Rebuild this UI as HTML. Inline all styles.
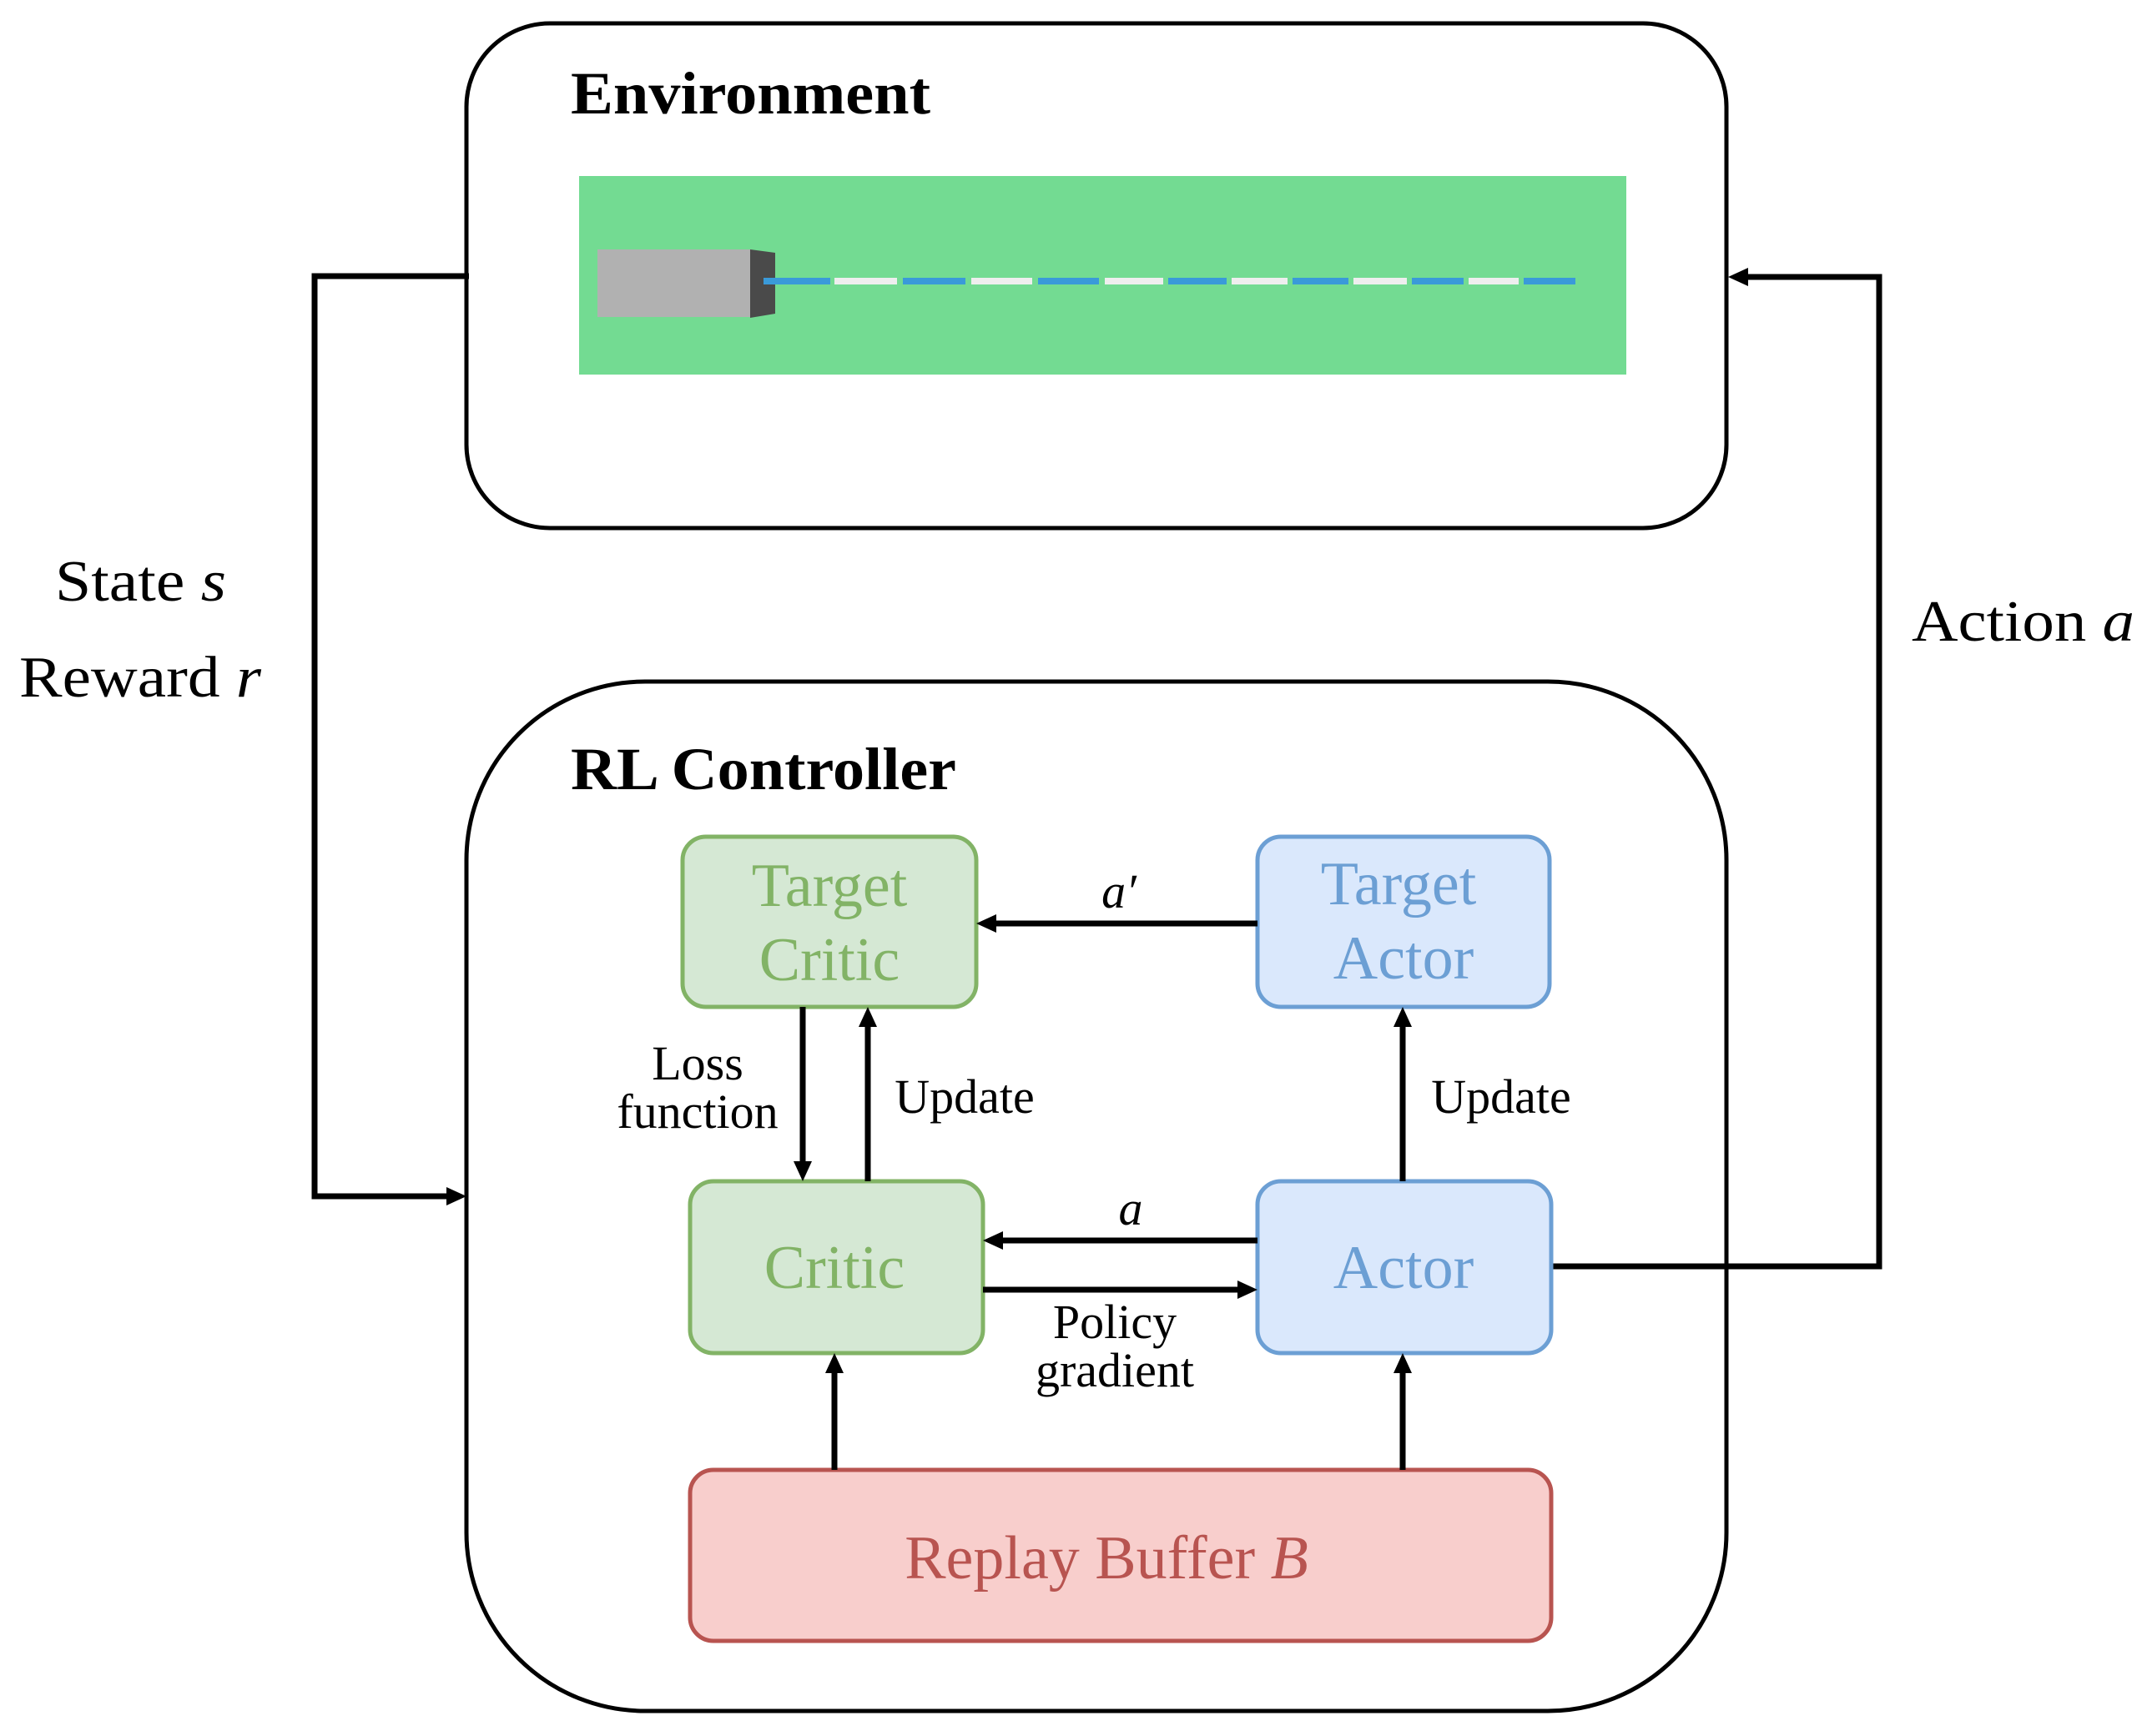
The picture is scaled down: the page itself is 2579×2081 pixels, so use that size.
<!DOCTYPE html>
<html><head><meta charset="utf-8"><style>html,body{margin:0;padding:0;background:#fff}svg{display:block}</style></head>
<body>
<svg width="2579" height="2081" viewBox="0 0 2579 2081" xmlns="http://www.w3.org/2000/svg" font-family="Liberation Serif, serif">
<!-- Environment -->
<rect x="559" y="28" width="1510" height="605" rx="100" fill="#fff" stroke="#000" stroke-width="5"/>
<text x="684" y="136" font-size="72" font-weight="bold" textLength="431" lengthAdjust="spacingAndGlyphs">Environment</text>
<rect x="694" y="211" width="1255" height="238" fill="#73db92"/>
<rect x="716" y="299" width="185" height="81" fill="#b1b1b1"/>
<polygon points="899,299 929,303 929,376 899,381" fill="#4a4a4a"/>
<g stroke-width="8">
<line x1="915" y1="337" x2="995" y2="337" stroke="#3a9ad9"/>
<line x1="1000" y1="337" x2="1075" y2="337" stroke="#eeeeee"/>
<line x1="1082" y1="337" x2="1157" y2="337" stroke="#3a9ad9"/>
<line x1="1164" y1="337" x2="1237" y2="337" stroke="#eeeeee"/>
<line x1="1244" y1="337" x2="1317" y2="337" stroke="#3a9ad9"/>
<line x1="1324" y1="337" x2="1394" y2="337" stroke="#eeeeee"/>
<line x1="1400" y1="337" x2="1470" y2="337" stroke="#3a9ad9"/>
<line x1="1476" y1="337" x2="1543" y2="337" stroke="#eeeeee"/>
<line x1="1549" y1="337" x2="1616" y2="337" stroke="#3a9ad9"/>
<line x1="1622" y1="337" x2="1686" y2="337" stroke="#eeeeee"/>
<line x1="1692" y1="337" x2="1754" y2="337" stroke="#3a9ad9"/>
<line x1="1760" y1="337" x2="1820" y2="337" stroke="#eeeeee"/>
<line x1="1826" y1="337" x2="1888" y2="337" stroke="#3a9ad9"/>
</g>
<!-- RL controller -->
<rect x="559" y="817" width="1510" height="1234" rx="214" fill="#fff" stroke="#000" stroke-width="5"/>
<text x="684" y="946" font-size="72" font-weight="bold" textLength="462" lengthAdjust="spacingAndGlyphs">RL Controller</text>
<!-- outer connectors -->
<polyline points="562,331 377,331 377,1434 540,1434" fill="none" stroke="#000" stroke-width="7"/>
<polygon points="559,1434 535,1423 535,1445" fill="#000"/>
<polyline points="1859,1518 2252,1518 2252,332 2090,332" fill="none" stroke="#000" stroke-width="7"/>
<polygon points="2071,332 2095,321 2095,343" fill="#000"/>
<g font-size="70">
<text x="66" y="720" textLength="205" lengthAdjust="spacingAndGlyphs">State <tspan font-style="italic">s</tspan></text>
<text x="23" y="835" textLength="290" lengthAdjust="spacingAndGlyphs">Reward <tspan font-style="italic">r</tspan></text>
<text x="2291" y="768" textLength="267" lengthAdjust="spacingAndGlyphs">Action <tspan font-style="italic">a</tspan></text>
</g>
<!-- boxes -->
<g stroke-width="5">
<rect x="818" y="1003" width="352" height="204" rx="28" fill="#d5e8d4" stroke="#82b366"/>
<rect x="1507" y="1003" width="350" height="204" rx="28" fill="#dae8fc" stroke="#6c9fd4"/>
<rect x="827" y="1416" width="351" height="206" rx="28" fill="#d5e8d4" stroke="#82b366"/>
<rect x="1507" y="1416" width="352" height="206" rx="28" fill="#dae8fc" stroke="#6c9fd4"/>
<rect x="827" y="1762" width="1032" height="205" rx="28" fill="#f8cecc" stroke="#b85450"/>
</g>
<g font-size="74" text-anchor="middle">
<text x="994" y="1086" fill="#82b366">Target</text>
<text x="994" y="1175" fill="#82b366">Critic</text>
<text x="1676" y="1084" fill="#6c9fd4">Target</text>
<text x="1682" y="1173" fill="#6c9fd4">Actor</text>
<text x="1000" y="1544" fill="#82b366">Critic</text>
<text x="1682" y="1544" fill="#6c9fd4">Actor</text>
<text x="1326" y="1892" fill="#b85450">Replay Buffer <tspan font-style="italic">B</tspan></text>
</g>
<!-- inner arrows -->
<g stroke="#000" stroke-width="7">
<line x1="1507" y1="1107" x2="1190" y2="1107"/>
<line x1="962" y1="1207" x2="962" y2="1396"/>
<line x1="1040" y1="1416" x2="1040" y2="1227"/>
<line x1="1681" y1="1416" x2="1681" y2="1227"/>
<line x1="1507" y1="1487" x2="1198" y2="1487"/>
<line x1="1178" y1="1546" x2="1487" y2="1546"/>
<line x1="1000" y1="1762" x2="1000" y2="1642"/>
<line x1="1681" y1="1762" x2="1681" y2="1642"/>
</g>
<g fill="#000">
<polygon points="1170,1107 1194,1096 1194,1118"/>
<polygon points="962,1416 951,1392 973,1392"/>
<polygon points="1040,1207 1029,1231 1051,1231"/>
<polygon points="1681,1207 1670,1231 1692,1231"/>
<polygon points="1178,1487 1202,1476 1202,1498"/>
<polygon points="1507,1546 1483,1535 1483,1557"/>
<polygon points="1000,1622 989,1646 1011,1646"/>
<polygon points="1681,1622 1670,1646 1692,1646"/>
</g>
<g font-size="58" text-anchor="middle">
<text x="1341" y="1088" font-style="italic">a′</text>
<text x="836" y="1294">Loss</text>
<text x="836" y="1352">function</text>
<text x="1156" y="1334">Update</text>
<text x="1799" y="1334">Update</text>
<text x="1355" y="1468" font-style="italic">a</text>
<text x="1336" y="1604">Policy</text>
<text x="1336" y="1662">gradient</text>
</g>
</svg>
</body></html>
